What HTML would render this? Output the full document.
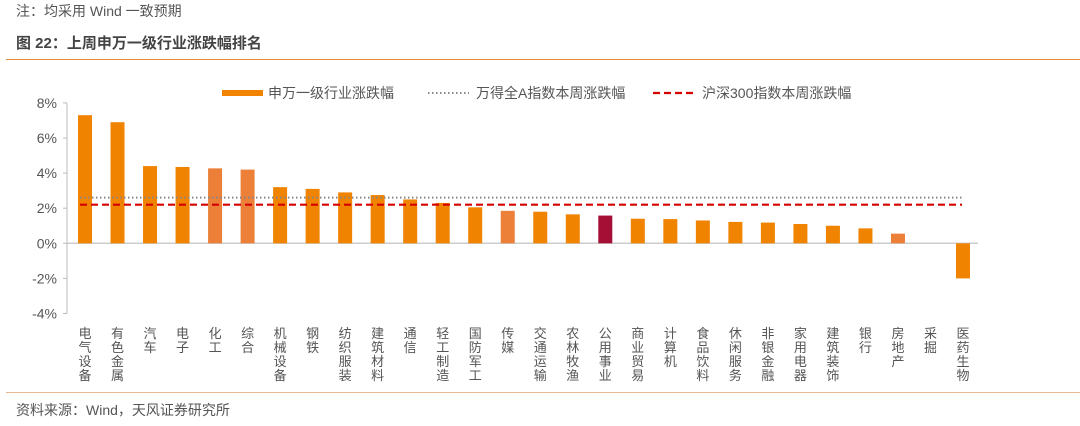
<!DOCTYPE html>
<html><head><meta charset="utf-8"><style>
body{margin:0;background:#fff;width:1080px;height:426px;overflow:hidden;font-family:"Liberation Sans","Noto Sans CJK SC",sans-serif;}
.t{position:absolute;white-space:nowrap}
</style></head><body>
<div class="t" style="left:16px;top:1px;font-size:14px;color:#555">注：均采用 Wind 一致预期</div>
<div class="t" style="left:16px;top:32px;font-size:15px;font-weight:bold;color:#444">图 22：上周申万一级行业涨跌幅排名</div>
<div style="position:absolute;left:6px;top:59px;width:1074px;height:1px;background:#E8883A"></div>
<div style="position:absolute;left:6px;top:392px;width:1074px;height:1px;background:#E8B890"></div>
<div class="t" style="left:16px;top:400px;font-size:14px;color:#555">资料来源：Wind，天风证券研究所</div>
<svg id="c" width="1080" height="426" style="position:absolute;left:0;top:0" font-family="Liberation Sans, Noto Sans CJK SC, sans-serif"></svg>
<script>
const categories=["电气设备","有色金属","汽车","电子","化工","综合","机械设备","钢铁","纺织服装","建筑材料","通信","轻工制造","国防军工","传媒","交通运输","农林牧渔","公用事业","商业贸易","计算机","食品饮料","休闲服务","非银金融","家用电器","建筑装饰","银行","房地产","采掘","医药生物"];
const values=[7.3,6.9,4.4,4.35,4.27,4.2,3.2,3.1,2.9,2.75,2.5,2.3,2.05,1.85,1.8,1.65,1.58,1.4,1.38,1.3,1.22,1.18,1.1,1.0,0.85,0.55,0,-2.0];
const colorKeys=["o","o","o","o","l","l","o","o","o","o","o","o","o","l","o","o","r","o","o","o","o","o","o","o","o","l","o","o"];
const windA=[2.6];
const hs300=[2.2];
const ticks=[8,6,4,2,0,-2,-4];
const NS="http://www.w3.org/2000/svg",svg=document.getElementById('c');
const y0=243.3,ppu=17.55,x0=85,step=(963-85)/27;
const Y=v=>y0-v*ppu, X=i=>x0+i*step;
const col={o:"#F08300",l:"#EC8038",r:"#A50F36"};
function mk(t,a){const e=document.createElementNS(NS,t);for(const k in a)e.setAttribute(k,a[k]);svg.appendChild(e);return e;}
let e;
e=mk('line',{x1:67,y1:Y(8),x2:67,y2:Y(-4),stroke:'#bbb'});


ticks.forEach(t=>{
 const l=mk('line',{x1:63,x2:67,y1:Y(t),y2:Y(t),stroke:'#bbb'});
 
 
 const tx=mk('text',{x:57,y:Y(t)+5,'text-anchor':'end','font-size':14,fill:'#555'});tx.textContent=t+'%';
 
 
});
e=mk('line',{x1:67,x2:978,y1:Y(0),y2:Y(0),stroke:'#ccc','stroke-width':1.5});


categories.forEach((c,i)=>{
 const v=values[i];
 const r=mk('rect',{x:X(i)-7,y:Math.min(Y(v),Y(0)),width:14,height:Math.abs(Y(v)-Y(0)),fill:col[colorKeys[i]]});
 
 
 const tx=mk('text',{x:X(i),y:338,'text-anchor':'middle','font-size':13,fill:'#555'});
 
 
 [...c].forEach((ch,k)=>{const s=document.createElementNS(NS,'tspan');s.setAttribute('x',X(i));s.setAttribute('y',338+k*14);s.textContent=ch;tx.appendChild(s);});
});
e=mk('line',{x1:80,x2:962,y1:Y(windA[0]),y2:Y(windA[0]),stroke:'#888','stroke-width':2,'stroke-dasharray':'1.5 2.5'});


e=mk('line',{x1:80,x2:962,y1:Y(hs300[0]),y2:Y(hs300[0]),stroke:'#D40000','stroke-width':2.2,'stroke-dasharray':'7 4'});


// legend
e=mk('rect',{x:222,y:90,width:41,height:6,fill:'#F08300'});


e=mk('text',{x:268,y:98,'font-size':14,fill:'#555'});e.textContent='申万一级行业涨跌幅';


e=mk('line',{x1:428,x2:469,y1:93,y2:93,stroke:'#888','stroke-width':2,'stroke-dasharray':'1.5 2.5'});


e=mk('text',{x:476,y:98,'font-size':14,fill:'#555'});e.textContent='万得全A指数本周涨跌幅';


e=mk('line',{x1:653,x2:696,y1:93,y2:93,stroke:'#D40000','stroke-width':2.2,'stroke-dasharray':'7 4'});


e=mk('text',{x:702,y:98,'font-size':14,fill:'#555'});e.textContent='沪深300指数本周涨跌幅';


</script>
</body></html>
